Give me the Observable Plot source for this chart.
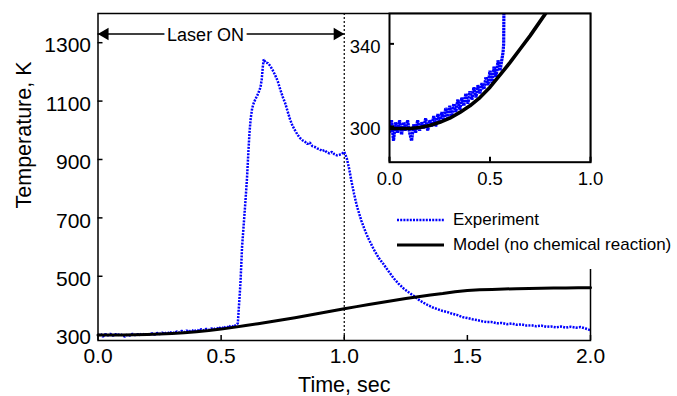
<!DOCTYPE html>
<html>
<head>
<meta charset="utf-8">
<script src="https://cdn.jsdelivr.net/npm/d3@7"></script>
<script src="https://cdn.jsdelivr.net/npm/@observablehq/plot@0.6"></script>
<style>
  body { margin: 0; background: #fff; font-family: "Liberation Sans", Arial, sans-serif; }
  #chart { position: relative; width: 677px; height: 396px; overflow: hidden; }
  #chart > svg { position: absolute; }
  #legend { position: absolute; left: 392px; top: 163px; width: 285px; height: 106px; background: #fff; }
  #legend .row { position: absolute; left: 5px; height: 20px; display: flex; align-items: center; font-size: 17px; color: #000; white-space: nowrap; }
  #legend .row svg { margin-right: 9px; }
</style>
</head>
<body>
<div id="chart"></div>
<script>
// Measured temperature (K) against time (s)
const expTime = [
  0.00, 0.01, 0.02, 0.03, 0.04, 0.05, 0.06, 0.07, 0.08, 0.09,
  0.10, 0.11, 0.12, 0.13, 0.14, 0.15, 0.16, 0.17, 0.18, 0.19,
  0.20, 0.21, 0.22, 0.23, 0.24, 0.25, 0.26, 0.27, 0.28, 0.29,
  0.30, 0.31, 0.32, 0.33, 0.34, 0.35, 0.36, 0.37, 0.38, 0.39,
  0.40, 0.41, 0.42, 0.43, 0.44, 0.45, 0.46, 0.47, 0.48, 0.49,
  0.50, 0.51, 0.52, 0.53, 0.54, 0.55, 0.56, 0.565, 0.568,
  0.572, 0.575, 0.579, 0.585, 0.592, 0.599, 0.605, 0.610, 0.615, 0.620,
  0.626, 0.633, 0.640, 0.650, 0.660, 0.665, 0.669, 0.673, 0.680, 0.690,
  0.700, 0.710, 0.720, 0.730, 0.740, 0.750, 0.760, 0.770, 0.780, 0.790,
  0.800, 0.810, 0.820, 0.830, 0.840, 0.850, 0.860, 0.870, 0.880, 0.890,
  0.900, 0.910, 0.920, 0.930, 0.940, 0.950, 0.960, 0.970, 0.980, 0.990,
  1.000, 1.010, 1.020, 1.030, 1.040, 1.050, 1.060, 1.070, 1.080, 1.090,
  1.100, 1.120, 1.140, 1.160, 1.180, 1.200, 1.220, 1.240, 1.260, 1.280,
  1.300, 1.320, 1.340, 1.360, 1.380, 1.400, 1.420, 1.440, 1.460, 1.480,
  1.500, 1.520, 1.540, 1.560, 1.580, 1.600, 1.620, 1.640, 1.660, 1.680,
  1.700, 1.720, 1.740, 1.760, 1.780, 1.800, 1.820, 1.840, 1.860, 1.880,
  1.900, 1.920, 1.940, 1.960, 1.980, 2.000
];
const expTemp = [
  297, 303, 293, 302, 297, 303, 296, 302, 298, 303,
  297, 293, 301, 297, 303, 298, 302, 299, 304, 298,
  303, 300, 305, 300, 306, 302, 307, 303, 309, 304,
  310, 305, 311, 307, 313, 308, 314, 310, 316, 311,
  317, 313, 319, 314, 320, 316, 321, 318, 324, 320,
  327, 321, 329, 324, 332, 327, 333, 336, 340,
  394, 430, 486, 600, 680, 760, 835, 915, 990, 1040,
  1075, 1095, 1108, 1125, 1148, 1175, 1215, 1243, 1232, 1230,
  1220, 1205, 1188, 1168, 1140, 1115, 1093, 1065, 1037, 1015,
  1000, 985, 974, 966, 961, 953, 958, 946, 943, 938,
  935, 929, 932, 924, 921, 926, 918, 914, 916, 919,
  926, 905, 868, 822, 782, 745, 716, 689, 666, 645,
  626, 592, 563, 541, 517, 494, 475, 459, 446, 434,
  421, 410, 401, 393, 387, 381, 377, 371, 367, 360,
  357, 353, 350, 346, 343, 343, 339, 340, 336, 338,
  334, 335, 331, 332, 329, 331, 327, 328, 325, 328,
  324, 327, 324, 326, 321, 315
];

// Heat-transfer model without chemical reaction
const modelTime = [
  0.00, 0.05, 0.10, 0.15, 0.20, 0.25, 0.30, 0.35, 0.40, 0.45,
  0.50, 0.55, 0.60, 0.65, 0.70, 0.75, 0.80, 0.85, 0.90, 0.95,
  1.00, 1.05, 1.10, 1.15, 1.20, 1.25, 1.30, 1.35, 1.40, 1.45,
  1.50, 1.55, 1.60, 1.65, 1.70, 1.75, 1.80, 1.85, 1.90, 1.95, 2.00
];
const modelTemp = [
  299, 299, 299, 299.5, 300.5, 302, 304, 306.8, 310, 314,
  319, 325, 331, 337.5, 344, 351, 358, 365.5, 373, 381,
  389, 396, 403, 410, 417, 424, 430, 436, 441, 447,
  451, 453.5, 455, 456.5, 457.5, 458.5, 459, 459.5, 460, 460.5, 461
];

const xTicks = [0, 0.5, 1, 1.5, 2];
const yTicks = [300, 500, 700, 900, 1100, 1300];
const insetXTicks = [0, 0.5, 1];
const insetYTicks = [300, 340];
const laserOn = [0, 1.0];           // laser switched on at 0 s, off at 1 s
const laserLabel = "Laser ON";
const seriesNames = ["Experiment", "Model (no chemical reaction)"];
const xLabel = "Time, sec";
const yLabel = "Temperature, K";

const experiment = expTime.map((t, i) => ({t, T: expTemp[i]}));
const model = modelTime.map((t, i) => ({t, T: modelTemp[i]}));

const BLUE = "#0000ff";
const FONT = "'Liberation Sans', Arial, Helvetica, sans-serif";
const DOTS = "2,1.2";

// ---- main chart ----
const W = 677, H = 396, mL = 97.5, mR = 87, mT = 13, mB = 56;
const frameW = W - mL - mR, frameH = H - mT - mB;
const yDomain = [280, 1400];
const arrowY = 1330;
const fmt1 = d3.format(".1f");
const fmt0 = d3.format("d");

const main = Plot.plot({
  width: W, height: H,
  marginLeft: mL, marginRight: mR, marginTop: mT, marginBottom: mB,
  style: {fontFamily: FONT, fontSize: "21px", color: "#000", background: "transparent", overflow: "visible"},
  x: {domain: [0, 2]},
  y: {domain: yDomain},
  marks: [
    Plot.ruleX([laserOn[1]], {stroke: "#000", strokeWidth: 1.2, strokeDasharray: "2,2"}),
    Plot.line(experiment, {x: "t", y: "T", stroke: BLUE, strokeWidth: 2.5, strokeDasharray: DOTS, strokeLinecap: "butt", strokeLinejoin: "miter"}),
    Plot.line(model, {x: "t", y: "T", stroke: "#000", strokeWidth: 3}),
    Plot.frame({stroke: "#000", strokeWidth: 1.5}),
    Plot.tickX(xTicks, {x: d => d, insetTop: frameH - 5, strokeWidth: 1.5}),
    Plot.tickY(yTicks, {y: d => d, insetRight: frameW - 5, strokeWidth: 1.5}),
    Plot.axisX(xTicks, {tickSize: 0, tickPadding: 8, tickFormat: fmt1, fontSize: 21, label: null}),
    Plot.axisY(yTicks, {tickSize: 0, tickPadding: 7, tickFormat: fmt0, fontSize: 21, dy: 3, label: null}),
    Plot.text([xLabel], {frameAnchor: "bottom", lineAnchor: "top", dy: 36, fontSize: 21.5}),
    Plot.text([yLabel], {frameAnchor: "top-left", rotate: -90, textAnchor: "middle", lineAnchor: "middle",
                         dx: 23.5 - mL, dy: 134.5 - mT, fontSize: 21.5}),
    // "Laser ON" double arrow
    Plot.ruleY([arrowY], {x1: laserOn[0], x2: laserOn[1], strokeWidth: 1.5}),
    Plot.text([laserLabel], {x: 0.437, y: arrowY, dy: 1.5, fontSize: 18, fill: "#000", stroke: "#fff", strokeWidth: 8}),
    Plot.dot([laserOn[0]], {x: d => d, y: () => arrowY, symbol: "triangle", r: 4.6, fill: "#000", stroke: null, rotate: -90, dx: 7}),
    Plot.dot([laserOn[1]], {x: d => d, y: () => arrowY, symbol: "triangle", r: 4.6, fill: "#000", stroke: null, rotate: 90, dx: -7})
  ]
});
main.style.left = "0px";
main.style.top = "0px";

// ---- legend ----
const legend = document.createElement("div");
legend.id = "legend";
const swatches = [
  {stroke: BLUE, width: 2.4, dash: DOTS, top: 47},
  {stroke: "#000", width: 3, dash: null, top: 72}
];
seriesNames.forEach((name, i) => {
  const s = swatches[i];
  const row = document.createElement("div");
  row.className = "row";
  row.style.top = s.top + "px";
  row.innerHTML =
    `<svg width="47" height="8"><line x1="0" x2="47" y1="4" y2="4" stroke="${s.stroke}" stroke-width="${s.width}"` +
    (s.dash ? ` stroke-dasharray="${s.dash}"` : "") + `/></svg><span>${name}</span>`;
  legend.appendChild(row);
});

// ---- inset: first second, zoomed temperature ----
const iL = 330, iW = 270, iH = 200, imL = 59, imR = 10, imT = 13, imB = 38.3;
const insetFrameW = iW - imL - imR, insetFrameH = iH - imT - imB;
const inset = Plot.plot({
  width: iW, height: iH,
  marginLeft: imL, marginRight: imR, marginTop: imT, marginBottom: imB,
  style: {fontFamily: FONT, fontSize: "18.5px", color: "#000", background: "transparent", overflow: "visible"},
  x: {domain: [0, 1]},
  y: {domain: [282.7, 354.7]},
  marks: [
    Plot.frame({fill: "#fff", stroke: null}),
    Plot.line(experiment, {x: "t", y: "T", stroke: BLUE, strokeWidth: 3.2, strokeDasharray: "2.5,0.6", strokeLinecap: "butt", strokeLinejoin: "miter", clip: true}),
    Plot.line(model, {x: "t", y: "T", stroke: "#000", strokeWidth: 3.6, clip: true}),
    Plot.frame({stroke: "#000", strokeWidth: 2}),
    Plot.tickX(insetXTicks, {x: d => d, insetTop: insetFrameH - 5, strokeWidth: 2}),
    Plot.tickY(insetYTicks, {y: d => d, insetRight: insetFrameW - 5, strokeWidth: 2}),
    Plot.axisX(insetXTicks, {tickSize: 0, tickPadding: 10, tickFormat: fmt1, fontSize: 18.5, label: null}),
    Plot.axisY(insetYTicks, {tickSize: 0, tickPadding: 9, tickFormat: fmt0, fontSize: 18.5, dy: 3, label: null})
  ]
});
inset.style.left = iL + "px";
inset.style.top = "0px";

const chart = document.getElementById("chart");
chart.appendChild(main);
chart.appendChild(legend);
chart.appendChild(inset);
</script>
</body>
</html>
